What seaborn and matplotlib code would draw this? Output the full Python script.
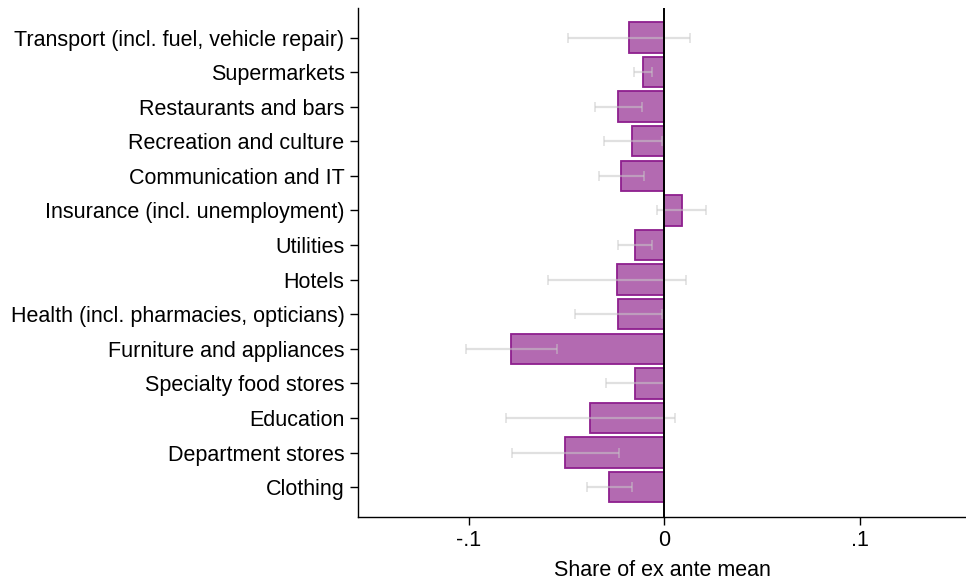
import matplotlib
matplotlib.use("Agg")
import matplotlib.pyplot as plt
import seaborn as sns
import pandas as pd
import numpy as np

categories = [
    "Transport (incl. fuel, vehicle repair)",
    "Supermarkets",
    "Restaurants and bars",
    "Recreation and culture",
    "Communication and IT",
    "Insurance (incl. unemployment)",
    "Utilities",
    "Hotels",
    "Health (incl. pharmacies, opticians)",
    "Furniture and appliances",
    "Specialty food stores",
    "Education",
    "Department stores",
    "Clothing",
]
estimates = [-0.018, -0.0108, -0.0234, -0.0163, -0.0219, 0.0090, -0.0147,
             -0.0241, -0.0234, -0.0782, -0.0147, -0.0378, -0.0505, -0.0280]
ci_low = [-0.0494, -0.0156, -0.0352, -0.0310, -0.0334, -0.0037, -0.0234,
          -0.0597, -0.0458, -0.1015, -0.0296, -0.0812, -0.0778, -0.0395]
ci_high = [0.0134, -0.0064, -0.0114, -0.0013, -0.0105, 0.0216, -0.0060,
           0.0114, -0.0009, -0.0548, -0.0003, 0.0057, -0.0231, -0.0165]
xticks = [-0.1, 0.0, 0.1]
xtick_labels = ["-.1", "0", ".1"]

df = pd.DataFrame({"category": categories, "estimate": estimates,
                   "lo": ci_low, "hi": ci_high})

sns.set_theme(style="white")
plt.rcParams["font.family"] = ["Liberation Sans", "DejaVu Sans"]
plt.rcParams["text.color"] = "black"
plt.rcParams["axes.labelcolor"] = "black"
plt.rcParams["xtick.color"] = "black"
plt.rcParams["ytick.color"] = "black"

fig = plt.figure(figsize=(9.66, 5.81), dpi=100)
ax = fig.add_axes([0.371, 0.111, 0.629, 0.875])

sns.barplot(data=df, x="estimate", y="category", orient="h", order=categories,
            color="#b36ab1", saturation=1, width=0.88, edgecolor="#8e1f8e",
            linewidth=1.3, ax=ax, zorder=2)

ypos = np.arange(len(categories))
ax.errorbar(df["estimate"], ypos,
            xerr=[df["estimate"] - df["lo"], df["hi"] - df["estimate"]],
            fmt="none", ecolor="#c8c8c8", alpha=0.55, elinewidth=1.6,
            capsize=3.5, capthick=1.2, zorder=3)

ax.axvline(0, color="black", linewidth=1.4, zorder=4)

ax.set_xlim(-0.1565, 0.1545)
ax.set_ylim(len(categories) - 0.15, -0.85)
ax.set_xticks(xticks)
ax.set_xticklabels(xtick_labels)
ax.set_xlabel("Share of ex ante mean", fontsize=15.5, labelpad=6, color="black")
ax.set_ylabel("")
ax.tick_params(axis="both", labelsize=15.5, length=6, width=1, colors="black",
               direction="out", bottom=True, left=True, pad=4)

for side in ["top", "right"]:
    ax.spines[side].set_visible(False)
for side in ["left", "bottom"]:
    ax.spines[side].set_color("black")
    ax.spines[side].set_linewidth(1)

fig.savefig("out.png", dpi=100)
